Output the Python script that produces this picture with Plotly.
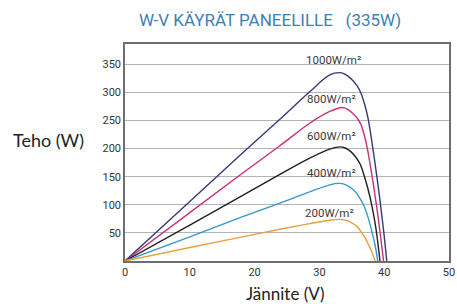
import plotly.graph_objects as go

# ---- data ----
v_1000 = [0, 10, 17.75, 23.9, 28.5, 31.6, 33.2, 34.0, 35.0, 35.8, 36.4, 37.0, 37.5, 38.1, 38.75, 39.35, 39.9, 40.4]
p_1000 = [0, 106, 188, 252, 301, 331, 335, 332, 323, 312, 299, 278, 254, 212, 160, 108, 55, 0]

v_800 = [0, 10, 17.75, 23.9, 28.5, 31.6, 33.5, 34.3, 35.2, 35.9, 36.4, 36.9, 37.4, 38.0, 38.8, 39.35, 39.9]
p_800 = [0, 86, 153, 205, 245, 266, 273, 270, 262, 253, 243, 225, 200, 160, 100, 52, 0]

v_600 = [0, 10, 17.75, 23.9, 28.5, 31.6, 33.2, 34.0, 34.8, 35.6, 36.3, 36.9, 37.5, 38.1, 38.7, 39.35]
p_600 = [0, 64, 114, 154, 183, 199, 203, 201, 195, 185, 172, 152, 128, 98, 60, 0]

v_400 = [0, 10, 17.75, 23.9, 28.5, 31.6, 33.0, 34.0, 35.2, 36.0, 36.8, 37.5, 38.1, 38.6, 39.0]
p_400 = [0, 43, 77, 103, 123, 135.5, 138, 136, 127, 116, 100, 78, 52, 28, 0]

v_200 = [0, 10, 17.75, 23.9, 28.5, 31.6, 33.0, 34.2, 35.0, 35.7, 36.5, 37.0, 37.5, 38.1, 38.6]
p_200 = [0, 24, 42, 56.5, 66.5, 72.5, 74, 72, 68, 62.5, 51, 42, 31, 16, 0]

series_names = ["1000W/m²", "800W/m²", "600W/m²", "400W/m²", "200W/m²"]
label_v = [32.2, 31.8, 31.8, 31.8, 31.6]
label_p = [358, 288, 223, 157, 86]

x_ticks = [0, 10, 20, 30, 40, 50]
y_ticks = [50, 100, 150, 200, 250, 300, 350]

colors = ["#343a78", "#c82f7c", "#231f20", "#3897c9", "#e9a13f"]

fig = go.Figure()
for v, p, name, c in zip([v_1000, v_800, v_600, v_400, v_200],
                         [p_1000, p_800, p_600, p_400, p_200],
                         series_names, colors):
    fig.add_trace(go.Scatter(x=v, y=p, mode="lines", name=name,
                             line=dict(color=c, width=1.4, shape="spline", smoothing=1.0),
                             showlegend=False, hoverinfo="skip"))

for name, lv, lp in zip(series_names, label_v, label_p):
    fig.add_annotation(x=lv, y=lp, text=name, showarrow=False,
                       xanchor="center", yanchor="middle",
                       font=dict(family="Roboto, Open Sans, sans-serif", size=11.5, color="#3a3a3a"))

fig.add_annotation(xref="paper", yref="paper", x=(269.5 - 125) / 324, y=1 + (44 - 20) / 217,
                   xanchor="center", yanchor="middle",
                   text="W-V KÄYRÄT PANEELILLE\u00a0\u00a0\u00a0(335W)", showarrow=False,
                   font=dict(family="Roboto, Open Sans, sans-serif", size=17, color="#3d7fb3"))
fig.add_annotation(xref="paper", yref="paper", x=-(125 - 48) / 324, y=(260.7 - 140) / 217,
                   xanchor="center", yanchor="middle",
                   text="Teho (W)", showarrow=False,
                   font=dict(family="Lato, Roboto, sans-serif", size=18, color="#222222"))
fig.add_annotation(xref="paper", yref="paper", x=(285 - 125) / 324, y=-(293.5 - 260.7) / 217,
                   xanchor="center", yanchor="middle",
                   text="Jännite (V)", showarrow=False,
                   font=dict(family="Lato, Roboto, sans-serif", size=17, color="#222222"))

fig.update_xaxes(range=[0, 50], tickvals=x_ticks, showgrid=False, zeroline=False, automargin=False,
                 showline=True, mirror=True, linecolor="#6e6e6e", linewidth=1.5,
                 ticks="", tickfont=dict(family="Roboto, sans-serif", size=11, color="#333333"))
fig.update_yaxes(range=[0, 386], tickvals=y_ticks, showgrid=True, gridcolor="#b3b3b3", gridwidth=1,
                 zeroline=False, showline=True, mirror=True, linecolor="#6e6e6e", linewidth=1.5, automargin=False,
                 ticks="", tickfont=dict(family="Roboto, sans-serif", size=11, color="#333333"))

fig.update_layout(width=457, height=304, margin=dict(l=125, r=8, t=44, b=43, pad=0),
                  plot_bgcolor="white", paper_bgcolor="white")

fig.write_html("out.html", config={"displayModeBar": False, "responsive": False},
               post_script="document.body.style.margin='0';document.body.style.overflow='hidden';"
                           "document.documentElement.style.overflow='hidden';")
